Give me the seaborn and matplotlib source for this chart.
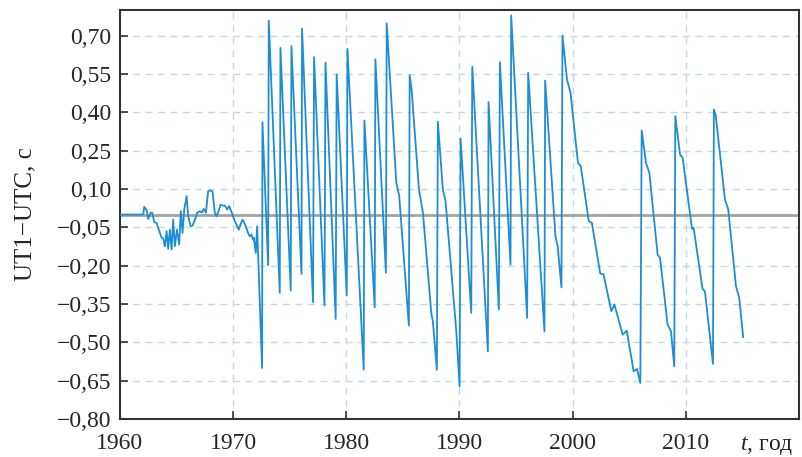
import matplotlib
matplotlib.use("Agg")
import matplotlib.pyplot as plt
from matplotlib.ticker import FuncFormatter, FixedLocator
import numpy as np
import pandas as pd
import seaborn as sns

# UT1-UTC (year, seconds)
years = [
    1960.0, 1962.06, 1962.14, 1962.36, 1962.50, 1962.71, 1962.85, 1963.03, 1963.24,
    1963.53, 1963.68, 1963.82, 1963.97, 1964.12, 1964.26, 1964.41, 1964.56, 1964.70,
    1964.85, 1965.03, 1965.23, 1965.38, 1965.53, 1965.68, 1965.89, 1966.03, 1966.24,
    1966.42, 1966.62, 1966.82, 1967.06, 1967.24, 1967.41, 1967.59, 1967.79, 1968.00,
    1968.18, 1968.38, 1968.53, 1968.71, 1968.89, 1969.09, 1969.27, 1969.47, 1969.65,
    1969.84, 1970.00, 1970.15, 1970.33, 1970.50, 1970.65, 1970.83, 1970.99, 1971.12,
    1971.32, 1971.47, 1971.62, 1971.76, 1971.83, 1972.00, 1972.12,
    1972.56, 1972.59, 1973.09, 1973.15, 1974.12, 1974.18, 1975.09, 1975.15,
    1976.04, 1976.09, 1977.06, 1977.15, 1978.07, 1978.16, 1979.06, 1979.15,
    1980.04, 1980.10, 1981.54, 1981.60, 1982.51, 1982.57, 1983.50, 1983.57,
    1984.42, 1984.67, 1985.53, 1985.60, 1985.77, 1986.42, 1986.77, 1987.51, 1987.65,
    1988.00, 1988.09, 1988.53, 1988.77, 1989.72, 1990.01, 1990.10, 1991.04, 1991.13,
    1992.51, 1992.57, 1993.48, 1993.57, 1994.51, 1994.57, 1995.98, 1996.07,
    1997.51, 1997.57, 1998.48, 1998.68, 1999.01, 1999.10, 1999.50, 1999.81,
    2000.47, 2000.72, 2001.42, 2001.70, 2002.44, 2002.72, 2003.42, 2003.69,
    2004.42, 2004.78, 2005.39, 2005.69, 2005.98,
    2006.10, 2006.48, 2006.78, 2007.51, 2007.72, 2008.39, 2008.69, 2008.98,
    2009.07, 2009.49, 2009.72, 2010.55, 2010.69, 2011.48, 2011.69, 2012.40,
    2012.48, 2012.64, 2013.46, 2013.75, 2014.43, 2014.72, 2015.07,
]
ut1_utc = [
    0.0, 0.0, 0.030, 0.017, -0.017, 0.007, 0.007, -0.030, -0.033,
    -0.072, -0.090, -0.094, -0.124, -0.065, -0.134, -0.059, -0.137, -0.020,
    -0.124, -0.059, -0.117, 0.013, -0.072, 0.020, 0.072, -0.007, -0.046,
    -0.043, -0.020, 0.007, 0.013, 0.008, 0.022, 0.007, 0.091, 0.094,
    0.091, 0.007, -0.007, 0.012, 0.039, 0.035, 0.035, 0.020, 0.033,
    0.012, -0.007, -0.026, -0.043, -0.059, -0.039, -0.020, -0.033, -0.046,
    -0.072, -0.085, -0.078, -0.098, -0.091, -0.150, -0.046,
    -0.600, 0.361, -0.198, 0.758, -0.306, 0.652, -0.297, 0.659,
    -0.232, 0.727, -0.343, 0.616, -0.356, 0.594, -0.408, 0.548,
    -0.317, 0.648, -0.607, 0.368, -0.363, 0.607, -0.228, 0.748,
    0.124, 0.075, -0.434, 0.545, 0.490, 0.098, 0.008, -0.385, -0.418,
    -0.607, 0.363, 0.098, 0.052, -0.457, -0.672, 0.297, -0.385, 0.578,
    -0.535, 0.440, -0.372, 0.596, -0.196, 0.779, -0.404, 0.555,
    -0.457, 0.524, -0.085, -0.124, -0.285, 0.700, 0.528, 0.477,
    0.202, 0.189, -0.025, -0.033, -0.231, -0.233, -0.378, -0.352,
    -0.470, -0.454, -0.613, -0.604, -0.659,
    0.329, 0.202, 0.163, -0.157, -0.169, -0.430, -0.457, -0.594,
    0.385, 0.235, 0.222, -0.056, -0.052, -0.291, -0.300, -0.584,
    0.411, 0.390, 0.059, 0.020, -0.280, -0.326, -0.480,
]

x_ticks = [1960, 1970, 1980, 1990, 2000, 2010]
y_ticks = [-0.80, -0.65, -0.50, -0.35, -0.20, -0.05, 0.10, 0.25, 0.40, 0.55, 0.70]

df = pd.DataFrame({"year": years, "dut": ut1_utc})

sns.set_style("ticks")
plt.rcParams["font.family"] = ["Liberation Serif", "DejaVu Serif"]
plt.rcParams["mathtext.fontset"] = "custom"
plt.rcParams["mathtext.it"] = "Liberation Serif:italic"
plt.rcParams["mathtext.rm"] = "Liberation Serif"

fig, ax = plt.subplots(figsize=(8.03, 4.57), dpi=100)
fig.subplots_adjust(left=0.1494, right=0.995, bottom=0.083, top=0.978)

# zero line under the series
ax.axhline(0, color="#a3a3a3", lw=2, zorder=2)
sns.lineplot(data=df, x="year", y="dut", estimator=None, sort=False,
             color="#1d8ed5", lw=1.3, ax=ax, zorder=3)

ax.set_xlim(1960, 2020)
ax.set_ylim(-0.80, 0.80)
ax.xaxis.set_major_locator(FixedLocator(x_ticks))
ax.yaxis.set_major_locator(FixedLocator(y_ticks))


def comma_fmt(v, pos):
    return f"{v:.2f}".replace(".", ",").replace("-", "\u2212")


ax.yaxis.set_major_formatter(FuncFormatter(comma_fmt))
ax.grid(True, color="#c3d9e5", linestyle=(0, (5, 4)), lw=1, zorder=0)
ax.tick_params(direction="in", length=6, width=1.2, labelsize=17,
               color="#333333")
ax.tick_params(axis="y", pad=6)
ax.tick_params(axis="x", pad=10)
for s in ax.spines.values():
    s.set_color("#333333")
    s.set_linewidth(1.5)

ax.set_ylabel("UT1\u2212UTC, с", fontsize=18)
ax.yaxis.set_label_coords(-0.123, 0.5)
ax.set_xlabel("$t$, год", fontsize=17)
ax.xaxis.set_label_coords(0.952, -0.036)

fig.savefig("out.png", dpi=100)
